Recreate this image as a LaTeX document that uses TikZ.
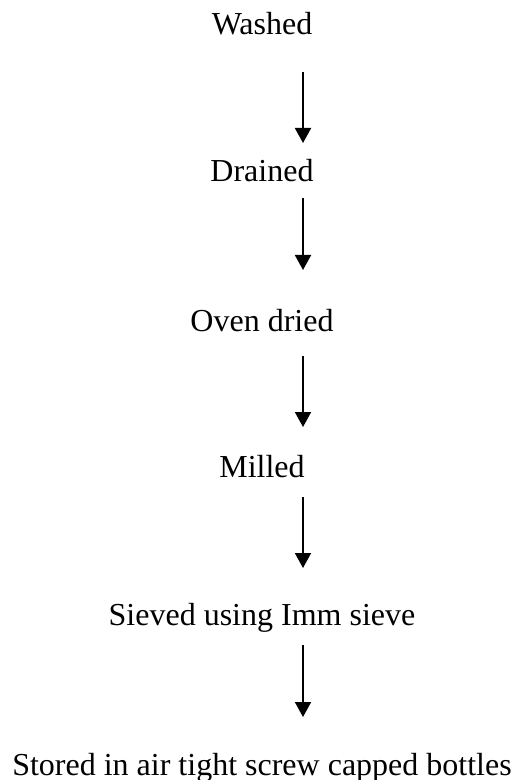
\documentclass[tikz,border=0pt]{standalone}
\usepackage{fontspec}
\setmainfont{Liberation Serif}
\usetikzlibrary{arrows.meta}
\begin{document}
\begin{tikzpicture}[x=0.5pt,y=-0.5pt,
  stage/.style={anchor=base,inner sep=0pt,font=\fontsize{16}{19}\selectfont},
  flow/.style={line width=0.95pt,-{Triangle[length=7.5pt,width=8pt]}}]
\useasboundingbox (0,0) rectangle (516,780);
% process stages
\node[stage] (washed)  at (262,35)  {Washed};
\node[stage] (drained) at (262,182) {Drained};
\node[stage] (oven)    at (262,331) {Oven dried};
\node[stage] (milled)  at (262,477) {Milled};
\node[stage] (sieved)  at (262,625) {Sieved using Imm sieve};
\node[stage] (stored)  at (262,775) {Stored in air tight screw capped bottles};
% arrow end points
\coordinate (a1s) at (303,72);  \coordinate (a1e) at (303,143);
\coordinate (a2s) at (303,198); \coordinate (a2e) at (303,270);
\coordinate (a3s) at (303,356); \coordinate (a3e) at (303,427);
\coordinate (a4s) at (303,497); \coordinate (a4e) at (303,568);
\coordinate (a5s) at (303,645); \coordinate (a5e) at (303,717);
% connectors
\draw[flow] (a1s) -- (a1e);
\draw[flow] (a2s) -- (a2e);
\draw[flow] (a3s) -- (a3e);
\draw[flow] (a4s) -- (a4e);
\draw[flow] (a5s) -- (a5e);
\end{tikzpicture}
\end{document}
